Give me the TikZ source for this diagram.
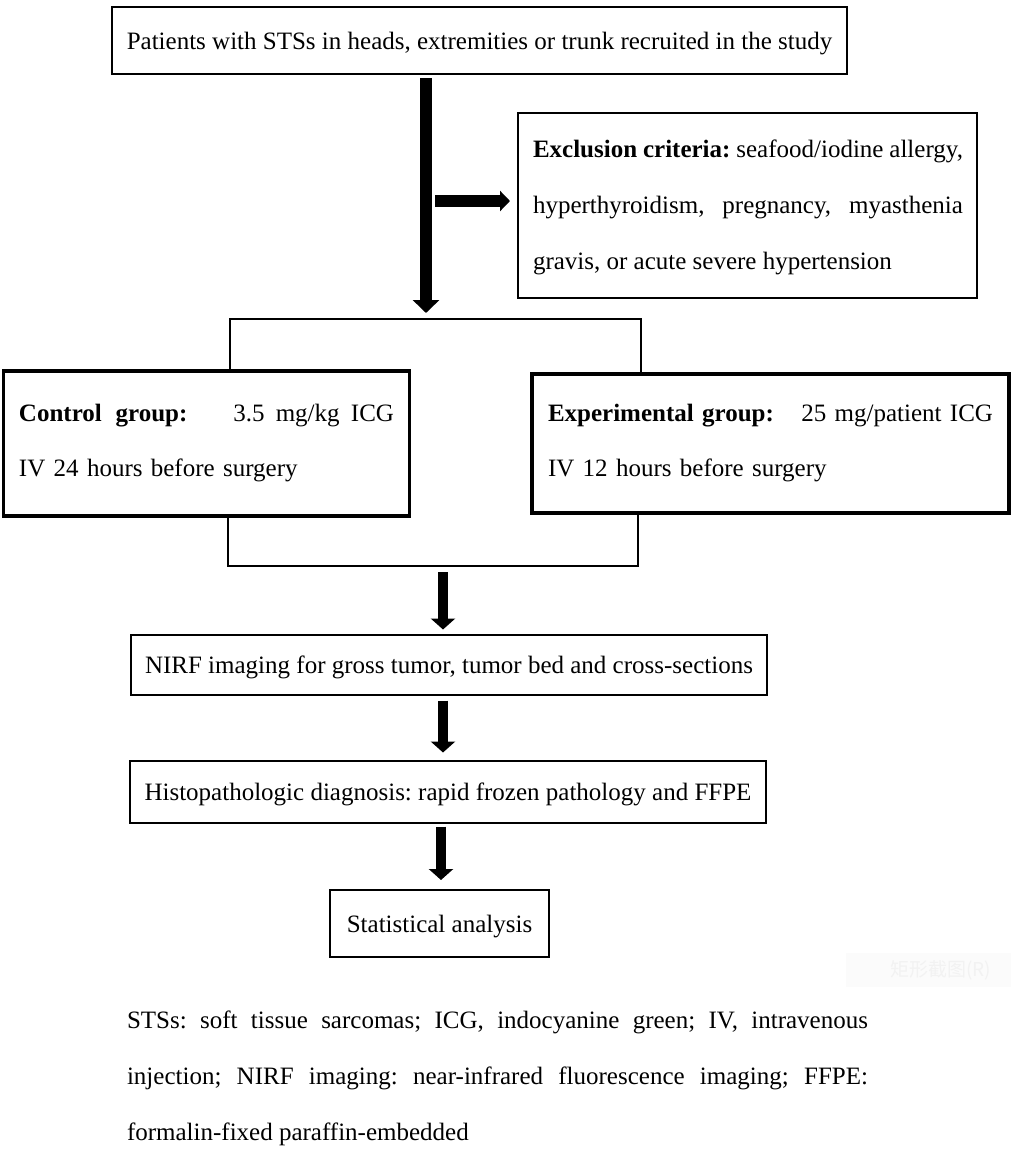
\documentclass[tikz,border=0pt]{standalone}
\usepackage{fontspec}
\setmainfont{Liberation Serif}
\newfontfamily\cjkfont{Noto Sans CJK SC}
\usetikzlibrary{arrows.meta}
\frenchspacing
\begin{document}
\begin{tikzpicture}[x=1pt,y=-1pt,
  every node/.style={font=\fontsize{25}{30}\selectfont, inner sep=0pt, outer sep=0pt},
  thinbox/.style={draw, line width=2pt, text depth=0pt},
  thickbox/.style={draw, line width=3.5pt, align=left, font=\fontsize{25}{55}\selectfont},
  bracket/.style={line width=2pt},
  bigarrow/.style={line width=12pt, -{Triangle[width=26pt 0 0, length=13pt 0 0]}},
  sidearrow/.style={line width=12pt, -{Triangle[width=20pt 0 0, length=10pt 0 0]}},
  downarrow/.style={line width=10pt, -{Triangle[width=24pt 0 0, length=11pt 0 0]}},
  txt/.style={anchor=base west}]
\useasboundingbox (0,0) rectangle (1013,1151);
\fill[white] (0,0) rectangle (1013,1151);

% boxes
\node[thinbox, minimum width=735pt, minimum height=67pt] (top) at (479.5,40.5)
  {Patients with STSs in heads, extremities or trunk recruited in the study};
\node[draw, line width=2pt, minimum width=459pt, minimum height=185pt] (excl) at (747.5,205.5) {};
\node[txt] (ex1) at (533,157) {\makebox[430pt][s]{\textbf{Exclusion criteria:} seafood/iodine allergy,}};
\node[txt] (ex2) at (533,213) {\makebox[430pt][s]{hyperthyroidism, pregnancy, myasthenia}};
\node[txt] (ex3) at (533,269) {gravis, or acute severe hypertension};

\node[thickbox, text width=375pt, minimum width=406pt, minimum height=145pt] (ctrl) at (206.5,443.5)
  {\makebox[375pt][l]{\textbf{Control\hspace{0.55em}group:}\hfill 3.5\hspace{0.45em}mg/kg\hspace{0.45em}ICG}\\IV 24 hours before surgery};
\node[thickbox, text width=445pt, minimum width=477pt, minimum height=139pt] (exp) at (770.5,443.5)
  {\makebox[445pt][l]{\textbf{Experimental group:}\hfill 25 mg/patient ICG}\\IV 12 hours before surgery};

\node[thinbox, minimum width=636pt, minimum height=60pt] (nirf) at (449,664.5)
  {NIRF imaging for gross tumor, tumor bed and cross-sections};
\node[thinbox, minimum width=636pt, minimum height=62pt] (histo) at (448,791.5)
  {Histopathologic diagnosis: rapid frozen pathology and FFPE};
\node[thinbox, minimum width=219pt, minimum height=67pt] (stat) at (439.5,923.5)
  {Statistical analysis};

% coordinates
\coordinate (split) at (426,319);
\coordinate (bl) at (230,319);
\coordinate (br) at (641,319);
\coordinate (sa) at (435,201);
\coordinate (bl2) at (228,566);
\coordinate (br2) at (638,566);
\coordinate (merge) at (443,566);
\coordinate (ax) at (443,0);
\coordinate (ax2) at (441,0);

% connectors
\draw[bigarrow, shorten <=4pt, shorten >=6pt] (top.south -| split) -- (split);
\draw[sidearrow, shorten >=8pt] (sa) -- (sa -| excl.west);
\draw[bracket] (ctrl.north -| bl) -- (bl) -- (br) -- (exp.north -| br);
\draw[bracket] (ctrl.south -| bl2) -- (bl2) -- (br2) -- (exp.south -| br2);
\draw[downarrow, shorten <=6pt, shorten >=5pt] (merge) -- (nirf.north -| merge);
\draw[downarrow, shorten <=6pt, shorten >=8pt] (nirf.south -| ax) -- (histo.north -| ax);
\draw[downarrow, shorten <=4pt, shorten >=10pt] (histo.south -| ax2) -- (stat.north -| ax2);

% faint watermark
\node[fill=gray!3, minimum width=165pt, minimum height=34pt, text=gray!10,
      font=\cjkfont\fontsize{19}{22}\selectfont] (wm) at (928,970) {\hspace{25pt}矩形截图(R)};

% footnote
\node[txt] (fn1) at (127,1028) {\makebox[741pt][s]{STSs: soft tissue sarcomas; ICG, indocyanine green; IV, intravenous}};
\node[txt] (fn2) at (127,1084) {\makebox[741pt][s]{injection; NIRF imaging: near-infrared fluorescence imaging; FFPE:}};
\node[txt] (fn3) at (127,1140) {formalin-fixed paraffin-embedded};
\end{tikzpicture}
\end{document}
